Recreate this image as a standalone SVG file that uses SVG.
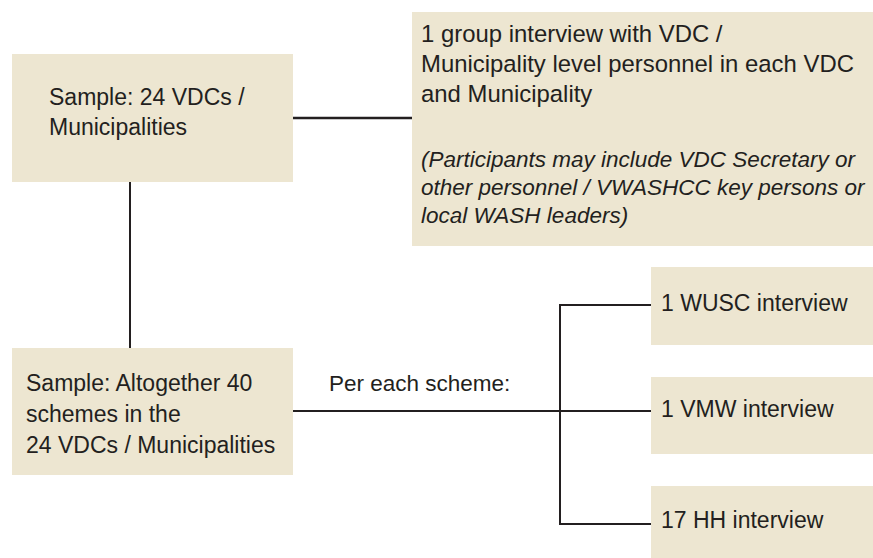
<svg xmlns="http://www.w3.org/2000/svg" width="873" height="558" viewBox="0 0 873 558">
<style>
.box{fill:#EDE6D1;}
.t{font-family:"Liberation Sans",Arial,sans-serif;font-size:23px;fill:#231F20;}
.ti{font-family:"Liberation Sans",Arial,sans-serif;font-size:22.5px;font-style:italic;fill:#231F20;}
.c{stroke:#231F20;stroke-width:2;fill:none;}
</style>
<rect width="873" height="558" fill="#FFFFFF"/>
<g id="connectors">
<line class="c" x1="293" y1="118" x2="412" y2="118" style="stroke-width:2.6"/>
<line class="c" x1="130" y1="182" x2="130" y2="348"/>
<line class="c" x1="293" y1="411" x2="651" y2="411"/>
<polyline class="c" points="651,305 560,305 560,524 651,524"/>
</g>
<g id="node-sample-vdc">
<rect class="box" x="12" y="54" width="281" height="128"/>
<text class="t" x="49" y="105">Sample: 24 VDCs /</text>
<text class="t" x="49" y="135">Municipalities</text>
</g>
<g id="node-group-interview">
<rect class="box" x="412" y="12" width="461" height="234"/>
<text class="t" x="421" y="42" style="font-size:23.9px">1 group interview with VDC /</text>
<text class="t" x="421" y="72" style="font-size:23.9px">Municipality level personnel in each VDC</text>
<text class="t" x="421" y="102" style="font-size:23.9px">and Municipality</text>
<text class="ti" x="421" y="167">(Participants may include VDC Secretary or</text>
<text class="ti" x="421" y="195">other personnel / VWASHCC key persons or</text>
<text class="ti" x="421" y="223">local WASH leaders)</text>
</g>
<g id="node-sample-schemes">
<rect class="box" x="12" y="348" width="281" height="127"/>
<text class="t" x="26" y="391">Sample: Altogether 40</text>
<text class="t" x="26" y="422">schemes in the</text>
<text class="t" x="26" y="453">24 VDCs / Municipalities</text>
</g>
<text class="t" x="329" y="391" style="font-size:22.5px">Per each scheme:</text>
<g id="node-wusc">
<rect class="box" x="651" y="267" width="222" height="78"/>
<text class="t" x="661" y="311">1 WUSC interview</text>
</g>
<g id="node-vmw">
<rect class="box" x="651" y="377" width="222" height="77"/>
<text class="t" x="661" y="417">1 VMW interview</text>
</g>
<g id="node-hh">
<rect class="box" x="651" y="486" width="222" height="72"/>
<text class="t" x="661" y="528">17 HH interview</text>
</g>
</svg>
